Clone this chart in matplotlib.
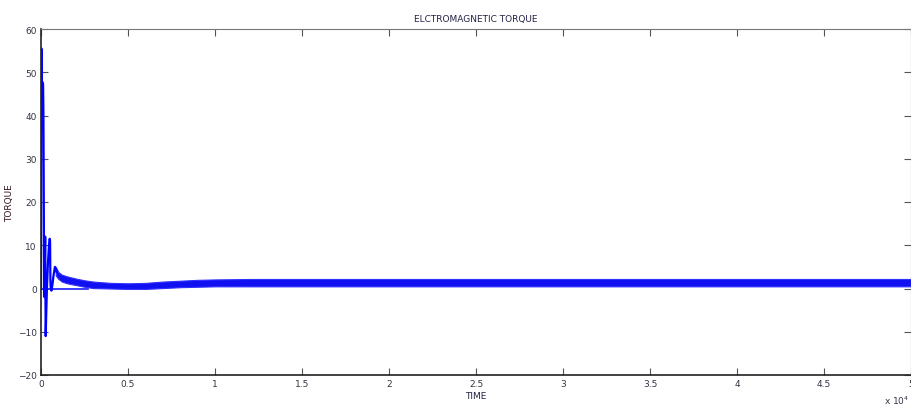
import matplotlib
matplotlib.use("Agg")
import matplotlib.pyplot as plt

# time in units of 10^4
t_start = [0.0, 0.002, 0.004, 0.005, 0.011, 0.012, 0.014, 0.016, 0.018, 0.020,
           0.024, 0.025, 0.027, 0.030, 0.034, 0.040, 0.046, 0.050, 0.052, 0.054,
           0.056, 0.060, 0.066, 0.072, 0.080, 0.085, 0.090]
T_start = [0.0, 55.5, 55.0, 48.0, 47.5, 47.0, 40.0, 20.0, 0.0, -2.0,
           12.0, 3.0, -11.0, -6.0, 0.0, 6.0, 10.0, 11.5, 11.0, 2.0,
           0.0, -0.5, 1.0, 3.0, 5.0, 4.5, 3.8]

# ripple band after the transient: lower / upper edge
t_band = [0.085, 0.10, 0.12, 0.15, 0.20, 0.25, 0.30, 0.40, 0.50, 0.60, 0.70,
          0.80, 0.90, 1.00, 1.20, 1.50, 2.00, 2.50, 3.00, 3.50, 4.00, 4.50, 5.00]
T_lo = [3.0, 2.2, 1.6, 1.2, 0.8, 0.4, 0.1, 0.0, -0.1, -0.1, 0.1,
        0.3, 0.4, 0.5, 0.5, 0.5, 0.5, 0.5, 0.5, 0.5, 0.5, 0.5, 0.5]
T_hi = [5.0, 3.8, 3.2, 2.8, 2.3, 1.9, 1.6, 1.3, 1.2, 1.3, 1.6,
        1.8, 2.0, 2.1, 2.2, 2.2, 2.2, 2.2, 2.2, 2.2, 2.2, 2.2, 2.2]

# load torque line at zero
t_zero = [0.0, 0.27]
T_zero = [0.0, 0.0]

xticks = [0, 0.5, 1, 1.5, 2, 2.5, 3, 3.5, 4, 4.5, 5]
xticklabels = ["0", "0.5", "1", "1.5", "2", "2.5", "3", "3.5", "4", "4.5", "5"]
yticks = [-20, -10, 0, 10, 20, 30, 40, 50, 60]

fig = plt.figure(figsize=(9.12, 4.10), dpi=100)
ax = fig.add_axes([41 / 912, 34 / 410, 870 / 912, 346 / 410])

ax.plot(t_zero, T_zero, color="#1a1aff", lw=1.2)
ax.plot(t_start, T_start, color="#0000ff", lw=1.6)
ax.fill_between(t_band, T_lo, T_hi, color="#1010f0", lw=0.8, edgecolor="#3030ff")

ax.set_xlim(0, 5)
ax.set_ylim(-20, 60)
ax.set_xticks(xticks)
ax.set_xticklabels(xticklabels)
ax.set_yticks(yticks)
ax.tick_params(direction="in", length=5, width=0.8, color="#555555",
               labelsize=6.5, labelcolor="#333344", top=True, right=True, pad=3)
for side in ["top", "right"]:
    ax.spines[side].set_color("#777777")
for side in ["left", "bottom"]:
    ax.spines[side].set_color("#222222")
    ax.spines[side].set_linewidth(1.2)

ax.set_title("ELCTROMAGNETIC TORQUE", fontsize=6.5, color="#222244", pad=6)
ax.set_xlabel("TIME", fontsize=6.5, color="#222244", labelpad=2)
ax.set_ylabel("TORQUE", fontsize=6.5, color="#331122")
ax.yaxis.set_label_coords(-0.031, 0.5)
fig.text(884 / 912, 3 / 410, r"x 10$^4$", fontsize=6.5, color="#333344",
         ha="left", va="bottom")

fig.savefig("out.png", dpi=100)
